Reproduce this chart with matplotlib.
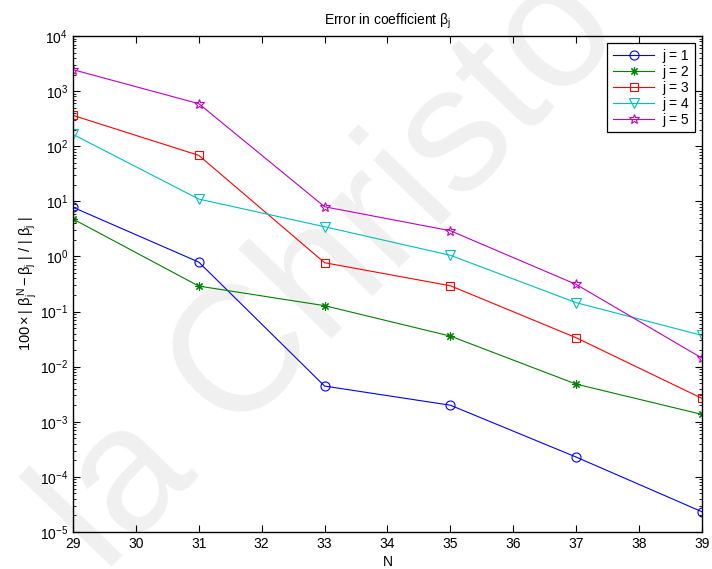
import matplotlib
matplotlib.use('Agg')
import matplotlib.pyplot as plt
from matplotlib.ticker import LogLocator, NullFormatter

plt.rcParams['font.family'] = ['Liberation Sans', 'DejaVu Sans']
plt.rcParams['mathtext.fontset'] = 'custom'
plt.rcParams['mathtext.rm'] = 'Liberation Sans'
plt.rcParams['mathtext.it'] = 'Liberation Sans'
plt.rcParams['mathtext.bf'] = 'Liberation Sans:bold'

# truncation order N and relative error (in percent) for each coefficient beta_j
N = [29, 31, 33, 35, 37, 39]
err_j1 = [7.8, 0.79, 4.45e-3, 2.0e-3, 2.29e-4, 2.33e-5]
err_j2 = [4.78, 0.29, 0.128, 0.0359, 4.83e-3, 1.36e-3]
err_j3 = [363, 68.3, 0.77, 0.294, 0.0335, 2.66e-3]
err_j4 = [164, 11.0, 3.46, 1.05, 0.145, 0.037]
err_j5 = [2450, 592, 7.98, 2.93, 0.311, 0.0143]
labels = ['j = 1', 'j = 2', 'j = 3', 'j = 4', 'j = 5']

series = [err_j1, err_j2, err_j3, err_j4, err_j5]
colors = [(0, 0, 1), (0, 0.5, 0), (1, 0, 0), (0, 0.75, 0.75), (0.75, 0, 0.75)]
markers = ['o', (8, 2, 0), 's', 'v', '*']
msizes = [6.5, 6, 5.5, 6.5, 7.5]

fig = plt.figure(figsize=(7.12, 5.69), dpi=100)
ax = fig.add_axes([0.1025, 0.065, 0.8834, 0.8717])
ax.patch.set_visible(False)

fig.text(0.465, 0.52, 'la Christo', rotation=46, rotation_mode='anchor',
         ha='center', va='center', fontsize=128, color='#f0f0f0', zorder=-1)

for y, c, m, ms, lab in zip(series, colors, markers, msizes, labels):
    ax.semilogy(N, y, color=c, marker=m, markersize=ms, markerfacecolor='none',
                markeredgecolor=c, markeredgewidth=0.8, linewidth=0.8, label=lab)

ax.set_xlim(29, 39)
ax.set_ylim(1e-5, 1e4)
ax.set_xticks(range(29, 40))
ax.yaxis.set_major_locator(LogLocator(base=10, numticks=20))
ax.yaxis.set_minor_locator(LogLocator(base=10, subs=range(2, 10), numticks=20))
ax.yaxis.set_minor_formatter(NullFormatter())

ax.tick_params(which='both', direction='in', top=True, right=True, labelsize=10)
ax.tick_params(which='major', length=5, width=0.8)
ax.tick_params(which='minor', length=2.5, width=0.6)
for s in ax.spines.values():
    s.set_linewidth(1.0)

ax.set_title(r'Error in coefficient $\beta_j$', fontsize=10, pad=8)
ax.set_xlabel('N', fontsize=10, labelpad=3)
ax.set_ylabel(r'$100 \times |\ \beta_j^N - \beta_j\ |\ /\ |\ \beta_j\ |$', fontsize=10.5, labelpad=0)

leg = ax.legend(loc='upper right', fontsize=10, fancybox=False, edgecolor='black',
                framealpha=1, handlelength=3.0, borderaxespad=0.5, labelspacing=0.15,
                handletextpad=0.6, borderpad=0.4)
leg.get_frame().set_linewidth(0.9)

fig.savefig('out.png', dpi=100)
